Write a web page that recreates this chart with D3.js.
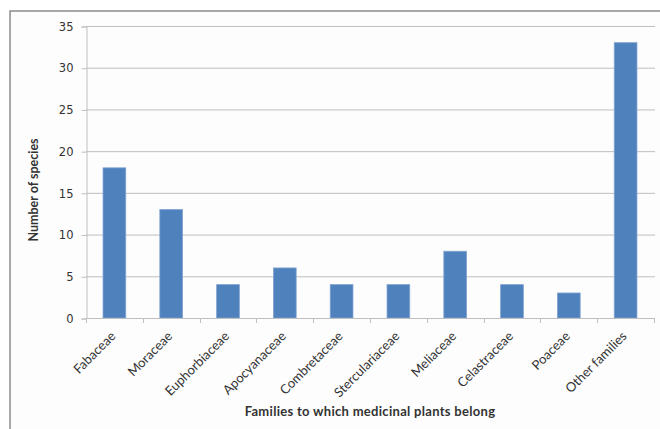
<!DOCTYPE html>
<html>
<head>
<meta charset="utf-8">
<script src="https://cdn.jsdelivr.net/npm/d3@7"></script>
<style>
	body { margin: 0; background: #fff; }
	svg text { fill: #333; }
</style>
</head>
<body>
<svg id="chart" width="660" height="429"></svg>
<script>
'use strict';

// Families and how many species each one has
var families = ['Fabaceae', 'Moraceae', 'Euphorbiaceae', 'Apocyanaceae', 'Combretaceae',
	'Sterculariaceae', 'Meliaceae', 'Celastraceae', 'Poaceae', 'Other families'];
var species_counts = [18, 13, 4, 6, 4, 4, 8, 4, 3, 33];
var y_ticks = [0, 5, 10, 15, 20, 25, 30, 35];

var svg = d3.select('#chart');
var plot = { left: 86, right: 654, top: 26, bottom: 318 };

// chart frame (only top and left edges show)
svg.append('rect')
	.attr('x', 10).attr('y', 11).attr('width', 660).attr('height', 440)
	.attr('fill', '#fdfdfd')
	.attr('stroke', '#8c8c8c')
	.attr('stroke-width', 1.5);

var x_scale = d3.scaleBand()
	.domain(families)
	.range([plot.left, plot.right])
	.paddingInner(0.6)
	.paddingOuter(0.3);

var y_scale = d3.scaleLinear()
	.domain([0, 35])
	.range([plot.bottom, plot.top]);

// gridlines
svg.append('g')
	.selectAll('line')
	.data(y_ticks.slice(1))
	.enter().append('line')
	.attr('x1', plot.left).attr('x2', plot.right + 1)
	.attr('y1', function(d) { return y_scale(d) + 0.5; })
	.attr('y2', function(d) { return y_scale(d) + 0.5; })
	.attr('stroke', '#bfbfbf');

// y axis
var y_axis = svg.append('g')
	.attr('transform', 'translate(' + (plot.left + 0.5) + ',0.5)')
	.call(d3.axisLeft(y_scale).tickValues(y_ticks).tickSize(5).tickPadding(8));
y_axis.select('.domain').attr('stroke', '#bfbfbf');
y_axis.selectAll('.tick line').attr('stroke', '#bfbfbf');
y_axis.selectAll('text')
	.attr('font-family', 'DejaVu Sans')
	.attr('font-size', 11.5)
	.attr('fill', '#333');

// bars
svg.append('g')
	.selectAll('rect')
	.data(families)
	.enter().append('rect')
	.attr('x', function(d) { return x_scale(d); })
	.attr('y', function(d, i) { return y_scale(species_counts[i]); })
	.attr('width', x_scale.bandwidth())
	.attr('height', function(d, i) { return plot.bottom - y_scale(species_counts[i]); })
	.attr('fill', '#4f81bd')
	.attr('stroke', '#7fa3d0')
	.attr('stroke-width', 0.8);

// x axis with ticks at the category boundaries
var step = x_scale.step();
var boundaries = d3.range(families.length + 1).map(function(i) { return plot.left + i * step; });
var x_axis = svg.append('g');
x_axis.append('line')
	.attr('x1', plot.left).attr('x2', plot.right)
	.attr('y1', plot.bottom + 0.5).attr('y2', plot.bottom + 0.5)
	.attr('stroke', '#bfbfbf');
x_axis.selectAll('line.tick')
	.data(boundaries)
	.enter().append('line')
	.attr('class', 'tick')
	.attr('x1', function(d) { return Math.round(d) + 0.5; })
	.attr('x2', function(d) { return Math.round(d) + 0.5; })
	.attr('y1', plot.bottom).attr('y2', plot.bottom + 5)
	.attr('stroke', '#bfbfbf');

// rotated category labels
x_axis.selectAll('text')
	.data(families)
	.enter().append('text')
	.attr('transform', function(d) {
		var cx = x_scale(d) + x_scale.bandwidth() / 2 + 2;
		return 'translate(' + cx + ',' + (plot.bottom + 19) + ') rotate(-45)';
	})
	.attr('text-anchor', 'end')
	.attr('font-family', 'Lato')
	.attr('font-size', 13)
	.text(function(d) { return d; });

// axis titles
svg.append('text')
	.attr('transform', 'translate(38,190) rotate(-90)')
	.attr('text-anchor', 'middle')
	.attr('font-family', 'Lato')
	.attr('font-weight', 'bold')
	.attr('font-size', 12.5)
	.text('Number of species');

svg.append('text')
	.attr('x', 370).attr('y', 416)
	.attr('text-anchor', 'middle')
	.attr('font-family', 'Lato')
	.attr('font-weight', 'bold')
	.attr('font-size', 13)
	.attr('letter-spacing', 0.3)
	.text('Families to which medicinal plants belong');
</script>
</body>
</html>
